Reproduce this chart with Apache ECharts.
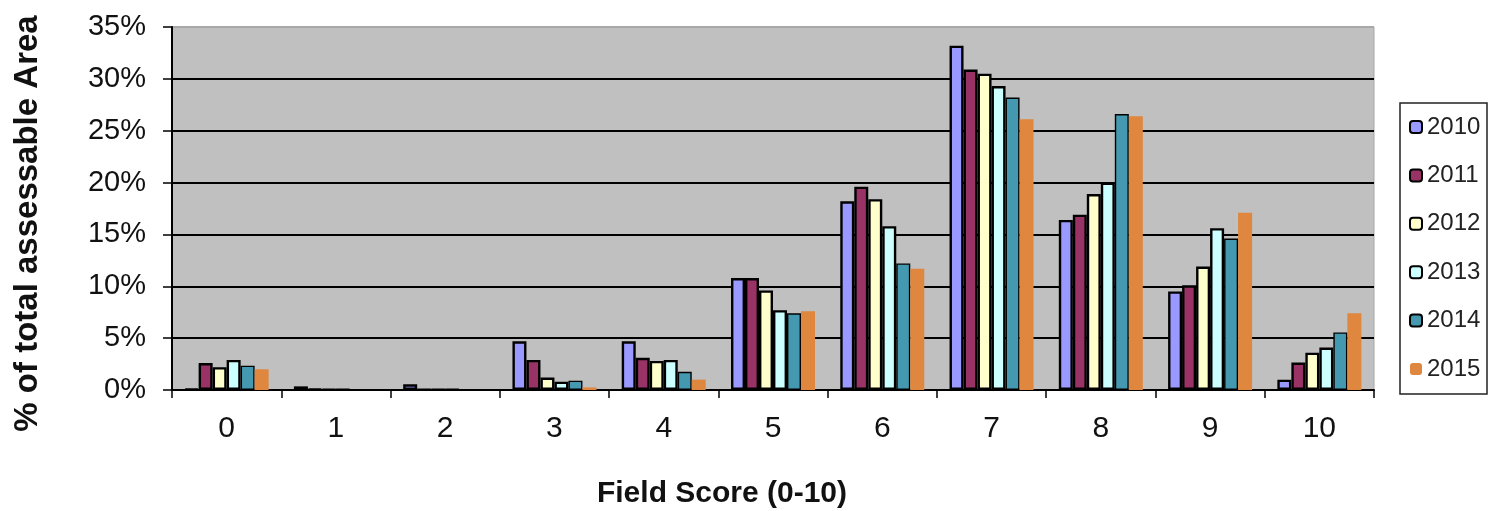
<!DOCTYPE html>
<html>
<head>
<meta charset="utf-8">
<script src="https://cdn.jsdelivr.net/npm/echarts@6/dist/echarts.min.js"></script>
<style>
html,body{margin:0;padding:0;background:#fff;}
#chart{width:1489px;height:511px;}
</style>
</head>
<body>
<div id="chart"></div>
<script>
const categories = ['0','1','2','3','4','5','6','7','8','9','10'];
const years = ['2010','2011','2012','2013','2014','2015'];
const s2010 = [0.1, 0.35, 0.55, 4.7, 4.7, 10.8, 18.2, 33.2, 16.4, 9.5, 1.0];
const s2011 = [2.6, 0.1, 0.05, 2.9, 3.1, 10.8, 19.6, 30.9, 16.9, 10.1, 2.65];
const s2012 = [2.2, 0.05, 0.05, 1.2, 2.8, 9.6, 18.4, 30.5, 18.9, 11.9, 3.6];
const s2013 = [2.9, 0.05, 0.05, 0.8, 2.9, 7.7, 15.8, 29.3, 20.0, 15.6, 4.1];
const s2014 = [2.35, 0.05, 0.05, 0.9, 1.75, 7.4, 12.2, 28.2, 26.6, 14.6, 5.55];
const s2015 = [2.0, 0.0, 0.0, 0.25, 1.0, 7.6, 11.7, 26.1, 26.4, 17.1, 7.4];
const yTicks = [0, 5, 10, 15, 20, 25, 30, 35];

const seriesData = [s2010, s2011, s2012, s2013, s2014, s2015];
const colors = ['#9999FF', '#993366', '#FFFFCC', '#CCFFFF', '#4499B1', '#DF873E'];
const borders = [2.4, 2.4, 2.4, 2.4, 1.4, 0];

const chart = echarts.init(document.getElementById('chart'));
const font = 'Arial, "Liberation Sans", sans-serif';

chart.setOption({
  animation: false,
  textStyle: { fontFamily: font },
  grid: {
    left: 172, right: 115, top: 27, bottom: 121,
    containLabel: false,
    outerBoundsMode: 'none',
    show: true, backgroundColor: '#C0C0C0', borderColor: '#a8a8a8', borderWidth: 1
  },
  legend: {
    orient: 'vertical',
    left: 1404, top: 110,
    itemWidth: 12, itemHeight: 12,
    itemGap: 24.4,
    data: years,
    textStyle: { fontSize: 24, color: '#222', fontFamily: font, lineHeight: 24 }
  },
  graphic: [{
    type: 'rect',
    shape: { x: 1400, y: 103, width: 87, height: 291 },
    style: { fill: 'none', stroke: '#222', lineWidth: 1.5 },
    z: -1
  }],
  xAxis: {
    type: 'category',
    data: categories,
    boundaryGap: true,
    name: 'Field Score (0-10)',
    nameLocation: 'middle',
    nameGap: 89,
    nameTextStyle: { fontSize: 30, fontWeight: 'bold', color: '#111', fontFamily: font, padding: [0, 102, 0, 0] },
    axisLine: { lineStyle: { color: '#000', width: 2 } },
    axisTick: { show: true, alignWithLabel: false, length: 8, lineStyle: { color: '#000', width: 1.5 } },
    axisLabel: { fontSize: 30, color: '#111', margin: 24, fontFamily: font }
  },
  yAxis: {
    type: 'value',
    min: 0, max: 35, interval: 5,
    name: '% of total assessable Area',
    nameLocation: 'middle',
    nameGap: 128,
    nameTextStyle: { fontSize: 33, fontWeight: 'bold', color: '#111', fontFamily: font, padding: [0, 30, 0, 0] },
    axisLine: { show: true, lineStyle: { color: '#000', width: 2 } },
    axisTick: { show: true, length: 9, lineStyle: { color: '#000', width: 1.5 } },
    axisLabel: {
      fontSize: 29, color: '#111', margin: 26, fontFamily: font,
      formatter: v => (yTicks.includes(v) ? v + '%' : '')
    },
    splitLine: { show: true, lineStyle: { color: ['#000','#000','#000','#000','#000','#000','#000','#a8a8a8'], width: 1.8 } }
  },
  series: years.map((y, i) => ({
    name: y,
    type: 'bar',
    data: seriesData[i],
    barWidth: 14,
    barGap: '0%',
    itemStyle: { color: colors[i], borderColor: '#000', borderWidth: borders[i] }
  }))
});
</script>
</body>
</html>
